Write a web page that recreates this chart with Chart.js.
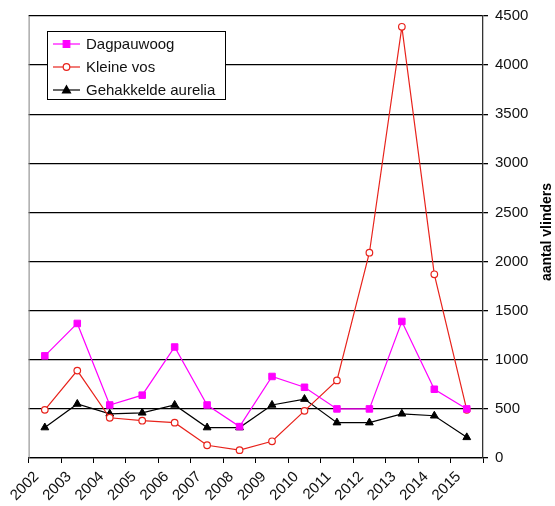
<!DOCTYPE html>
<html>
<head>
<meta charset="utf-8">
<script src="https://cdn.jsdelivr.net/npm/chart.js@4"></script>
<style>
  html, body { margin: 0; padding: 0; background: #fff; }
  #wrap { width: 555px; height: 506px; }
</style>
</head>
<body>
<div id="wrap"><canvas id="vlinders"></canvas></div>
<script>
// jaartallen op de x-as
const jaren = ['2002', '2003', '2004', '2005', '2006', '2007', '2008',
               '2009', '2010', '2011', '2012', '2013', '2014', '2015'];
// getelde vlinders per jaar
const dagpauwoog = [1040, 1370, 540, 640, 1130, 540, 320, 830, 720, 500, 500, 1390, 700, 500];
const kleineVos = [490, 890, 410, 380, 360, 130, 80, 170, 480, 790, 2090, 4390, 1870, 490];
const gehakkeldeAurelia = [310, 550, 450, 460, 540, 310, 310, 540, 600, 360, 360, 450, 430, 210];
const yMax = 4500;
const yStap = 500;

const FONT = '"Liberation Sans", Arial, sans-serif';

// punten staan midden tussen twee jaar-streepjes
function punten(reeks) {
  return reeks.map((v, i) => ({ x: i + 0.5, y: v }));
}

function tekenMarker(ctx, stijl, x, y, kleur, vul) {
  ctx.save();
  ctx.strokeStyle = kleur;
  ctx.fillStyle = vul;
  ctx.lineWidth = 1.2;
  ctx.beginPath();
  if (stijl === 'rect') {
    ctx.rect(x - 3.3, y - 3.3, 6.6, 6.6);
  } else if (stijl === 'circle') {
    ctx.arc(x, y, 3.3, 0, Math.PI * 2);
  } else {
    ctx.moveTo(x, y - 4.2);
    ctx.lineTo(x + 4, y + 3);
    ctx.lineTo(x - 4, y + 3);
    ctx.closePath();
  }
  ctx.fill();
  ctx.stroke();
  ctx.restore();
}

const extraTekening = {
  id: 'extraTekening',
  afterDraw(chart) {
    const ctx = chart.ctx;
    const area = chart.chartArea;
    ctx.save();

    // linkerrand van het plotvlak
    ctx.strokeStyle = '#808080';
    ctx.lineWidth = 1;
    ctx.beginPath();
    ctx.moveTo(area.left + 0.5, area.top);
    ctx.lineTo(area.left + 0.5, area.bottom);
    ctx.stroke();

    // legenda
    ctx.fillStyle = '#fff';
    ctx.fillRect(47.5, 31.5, 178, 68);
    ctx.strokeStyle = '#000';
    ctx.strokeRect(47.5, 31.5, 178, 68);
    ctx.font = '15px ' + FONT;
    ctx.textBaseline = 'middle';
    chart.data.datasets.forEach((ds, i) => {
      const y = 44 + i * 23;
      ctx.strokeStyle = ds.borderColor;
      ctx.lineWidth = 1.2;
      ctx.beginPath();
      ctx.moveTo(53, y);
      ctx.lineTo(80, y);
      ctx.stroke();
      tekenMarker(ctx, ds.pointStyle, 66.5, y, ds.pointBorderColor, ds.pointBackgroundColor);
      ctx.fillStyle = '#111';
      ctx.fillText(ds.label, 86, y + 1);
    });

    // astitel, van onder naar boven
    ctx.translate(547, 232);
    ctx.rotate(-Math.PI / 2);
    ctx.font = 'bold 14px ' + FONT;
    ctx.fillStyle = '#000';
    ctx.textAlign = 'center';
    ctx.textBaseline = 'middle';
    ctx.fillText('aantal vlinders', 0, 0);
    ctx.restore();
  }
};

new Chart(document.getElementById('vlinders'), {
  type: 'line',
  data: {
    datasets: [{
      label: 'Dagpauwoog',
      data: punten(dagpauwoog),
      borderColor: '#ff00ff',
      borderWidth: 1.2,
      pointStyle: 'rect',
      pointRadius: 4.6,
      pointBorderColor: '#ff00ff',
      pointBackgroundColor: '#ff00ff',
      pointBorderWidth: 1
    }, {
      label: 'Kleine vos',
      data: punten(kleineVos),
      borderColor: '#e8231c',
      borderWidth: 1.2,
      pointStyle: 'circle',
      pointRadius: 3.3,
      pointBorderColor: '#e8231c',
      pointBackgroundColor: '#fff',
      pointBorderWidth: 1.2
    }, {
      label: 'Gehakkelde aurelia',
      data: punten(gehakkeldeAurelia),
      borderColor: '#000',
      borderWidth: 1.2,
      pointStyle: 'triangle',
      pointRadius: 4.5,
      pointBorderColor: '#000',
      pointBackgroundColor: '#000',
      pointBorderWidth: 1
    }]
  },
  options: {
    responsive: true,
    maintainAspectRatio: false,
    animation: false,
    layout: { padding: { left: 27, top: 15, right: 0, bottom: 0 } },
    plugins: {
      legend: { display: false },
      tooltip: { enabled: false }
    },
    scales: {
      x: {
        type: 'linear',
        min: 0,
        max: jaren.length,
        afterFit: (scale) => { scale.height = 48; },
        grid: { drawOnChartArea: false, drawTicks: true, tickLength: 5, color: '#000' },
        border: { color: '#000', width: 1.3 },
        ticks: {
          stepSize: 1,
          autoSkip: false,
          maxRotation: 45,
          minRotation: 45,
          padding: 5,
          labelOffset: 8,
          color: '#111',
          font: { family: FONT, size: 15 },
          callback: (v) => jaren[v] ?? ''
        }
      },
      y: {
        position: 'right',
        min: 0,
        max: yMax,
        afterFit: (scale) => { scale.width = 72; },
        grid: { color: '#000', lineWidth: 1.3, tickLength: 5 },
        border: { color: '#333', width: 1.3 },
        ticks: {
          stepSize: yStap,
          padding: 7,
          color: '#111',
          font: { family: FONT, size: 15 },
          callback: (v) => String(v)
        }
      }
    }
  },
  plugins: [extraTekening]
});
</script>
</body>
</html>
